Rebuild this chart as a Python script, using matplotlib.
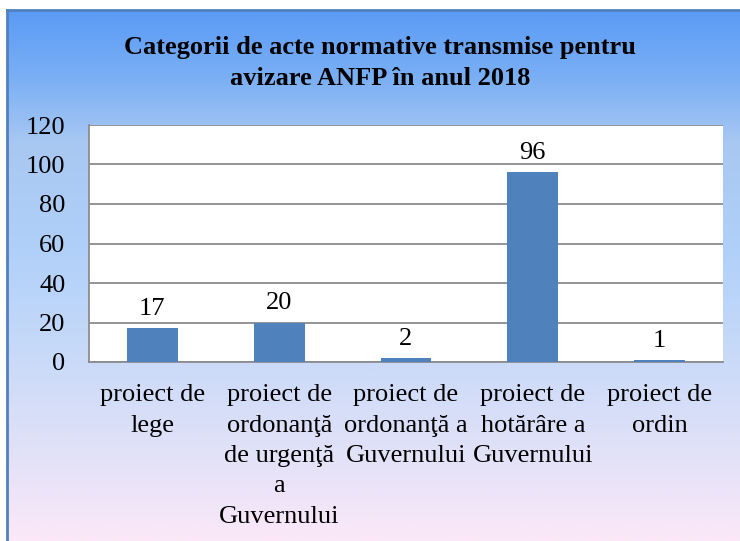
import numpy as np
import matplotlib
matplotlib.use("Agg")
import matplotlib.pyplot as plt
from matplotlib.colors import LinearSegmentedColormap

categories = ["proiect de\nlege",
              "proiect de\nordonanţă\nde urgenţă\na\nGuvernului",
              "proiect de\nordonanţă a\nGuvernului",
              "proiect de\nhotărâre a\nGuvernului",
              "proiect de\nordin"]
values = [17, 20, 2, 96, 1]
yticks = [0, 20, 40, 60, 80, 100, 120]
title = "Categorii de acte normative transmise pentru\navizare ANFP în anul 2018"

plt.rcParams['font.family'] = ['Liberation Serif', 'DejaVu Serif']

W, H = 740, 541
fig = plt.figure(figsize=(W / 100, H / 100), dpi=100)
fig.patch.set_facecolor('white')

# gradient background frame
bg = fig.add_axes([7 / W, 0, (W - 7) / W, (H - 10) / H])
cmap = LinearSegmentedColormap.from_list("bg", [
    (0.0, "#5b9bf5"), (0.12, "#78aef5"), (0.25, "#a8c8f2"), (0.45, "#b0d0fa"),
    (0.65, "#c8daf8"), (0.85, "#e4e2f8"), (1.0, "#fbe8f8")])
grad = np.linspace(0, 1, 256).reshape(-1, 1)
bg.imshow(grad, aspect='auto', cmap=cmap, extent=[0, 1, 0, 1], origin='upper')
bg.set_xlim(0, 1)
bg.set_ylim(0, 1)
bg.set_xticks([])
bg.set_yticks([])
for s in ['right', 'bottom']:
    bg.spines[s].set_visible(False)
for s in ['left', 'top']:
    bg.spines[s].set_color('#4f81bd')
    bg.spines[s].set_linewidth(2)

# main plot area
left, right, top, bottom = 89, 723, 125, 362
ax = fig.add_axes([left / W, 1 - bottom / H, (right - left) / W, (bottom - top) / H])
ax.set_facecolor('white')
x = np.arange(len(categories))
bars = ax.bar(x, values, width=0.4, color='#4f81bd', zorder=3)
ax.set_xlim(-0.5, len(categories) - 0.5)
ax.set_ylim(0, 120)
ax.set_yticks(yticks)
ax.set_yticklabels([str(t) for t in yticks], fontsize=19)
ax.set_xticks(x)
ax.set_xticklabels(categories, fontsize=19, linespacing=1.49)
ax.tick_params(axis='y', length=0, pad=17)
ax.tick_params(axis='x', length=0, pad=16)
ax.grid(axis='y', color='#8c8c8c', linewidth=1.3, zorder=1)
for s in ['top', 'right']:
    ax.spines[s].set_visible(False)
for s in ['left', 'bottom']:
    ax.spines[s].set_color('#8c8c8c')
    ax.spines[s].set_linewidth(1.3)

for xi, v in zip(x, values):
    ax.annotate(str(v), (xi, v), xytext=(0, 6), textcoords='offset points',
                ha='center', va='bottom', fontsize=19)

fig.text(380 / W, 1 - 63 / H, title, ha='center', va='center',
         fontsize=19, fontweight='bold', linespacing=1.4)

fig.savefig("out.png", dpi=100)
